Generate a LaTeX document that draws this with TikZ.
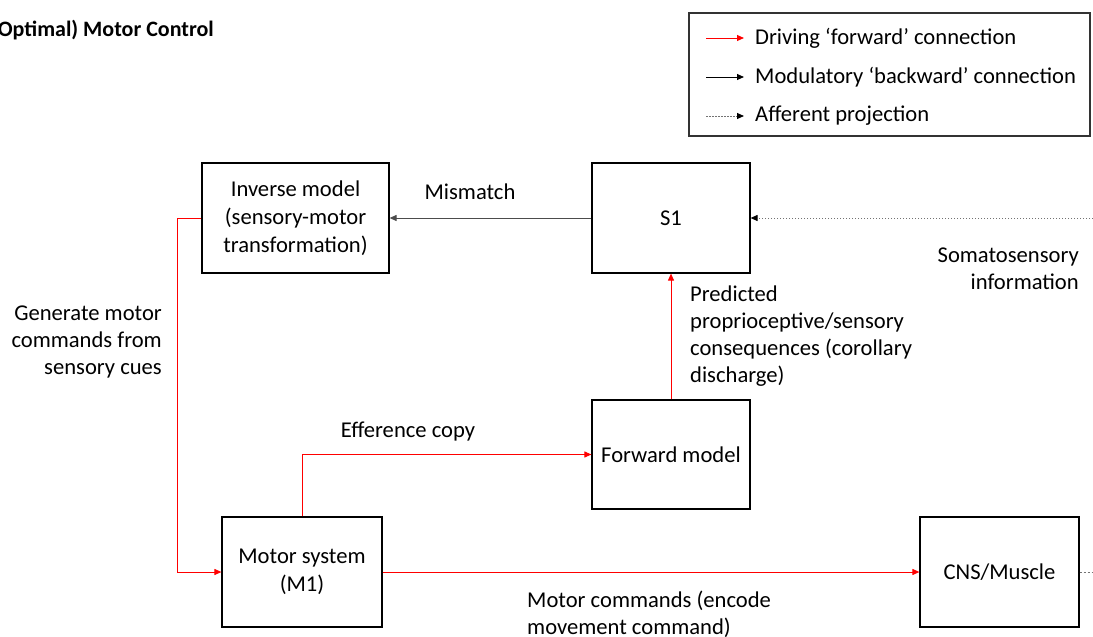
\documentclass[tikz,border=0pt]{standalone}
\usepackage{fontspec}
\setmainfont{Carlito}
\usetikzlibrary{arrows.meta}
\begin{document}
\begin{tikzpicture}[x=1pt,y=-1pt,
  txt/.style={font=\fontsize{22.6}{27}\selectfont, inner sep=0pt},
  box/.style={draw=black, line width=1.2pt, inner sep=0pt, align=center,
    font=\fontsize{22.6}{28}\selectfont},
  tip/.style={-{Triangle[length=7pt,width=6pt]}},
  drive/.style={tip, draw=red, line width=1pt},
  modul/.style={tip, draw=black!70, line width=1pt},
  aff/.style={-{Triangle[length=7pt,width=6pt,color=black]}, draw=black!55, line width=1pt, dash pattern=on 1.5pt off 1.5pt},
  affplain/.style={draw=black!55, line width=1pt, dash pattern=on 2pt off 2pt}]
\useasboundingbox (0,0) rectangle (1093,637);

% title, partly running past the left edge
\node[anchor=east, inner sep=0pt, font=\fontsize{22}{26}\selectfont\bfseries] (title) at (214,30) {(Optimal) Motor Control};

% legend
\node[draw=black!80, line width=1.2pt, minimum width=401pt, minimum height=123pt, inner sep=0pt] (legend) at (889.5,74.5) {};
\coordinate (l1a) at (706,38);  \coordinate (l1b) at (744,38);
\coordinate (l2a) at (706,77);  \coordinate (l2b) at (744,77);
\coordinate (l3a) at (706,116); \coordinate (l3b) at (744,116);
\draw[drive] (l1a) -- (l1b);
\draw[tip, draw=black, line width=1pt] (l2a) -- (l2b);
\draw[aff] (l3a) -- (l3b);
\node[txt, anchor=west] (lt1) at (755,38) {Driving ‘forward’ connection};
\node[txt, anchor=west] (lt2) at (755,77) {Modulatory ‘backward’ connection};
\node[txt, anchor=west] (lt3) at (755,116) {Afferent projection};

% blocks
\node[box, minimum width=187pt, minimum height=110pt] (inv) at (295.5,218) {Inverse model\\(sensory-motor\\transformation)};
\node[box, minimum width=158pt, minimum height=110pt] (s1) at (671,218) {S1};
\node[box, minimum width=158pt, minimum height=109pt] (fwd) at (671,454.5) {Forward model};
\node[box, minimum width=160pt, minimum height=110pt] (motor) at (302,572) {Motor system\\(M1)};
\node[box, minimum width=159pt, minimum height=110pt] (cns) at (999.5,572) {CNS/Muscle};

% connections
\coordinate (somaIn) at (1093,218);
\coordinate (cnsOut) at (1093,572);
\draw[modul] (s1.west) -- (inv.east);
\draw[aff] (somaIn) -- (s1.east);
\draw[drive] (fwd.north) -- (s1.south);
\draw[drive] (motor.north) |- (fwd.west);
\draw[drive] (inv.west) -- ++(-24,0) |- (motor.west);
\draw[drive] (motor.east) -- (cns.west);
\draw[affplain] (cns.east) -- (cnsOut);

% labels
\node[txt] (mism) at (470,192) {Mismatch};
\node[txt, align=right, anchor=east] (gen) at (162,342) {Generate motor\\commands from\\sensory cues};
\node[txt] (eff) at (408,432) {Efference copy};
\node[txt, align=left, anchor=west] (pred) at (690,336) {Predicted\\proprioceptive/sensory\\consequences (corollary\\discharge)};
\node[txt, align=right, anchor=east] (soma) at (1079,269) {Somatosensory\\information};
\node[txt, align=left, anchor=west] (mcmd) at (527,614) {Motor commands (encode\\movement command)};
\end{tikzpicture}
\end{document}
